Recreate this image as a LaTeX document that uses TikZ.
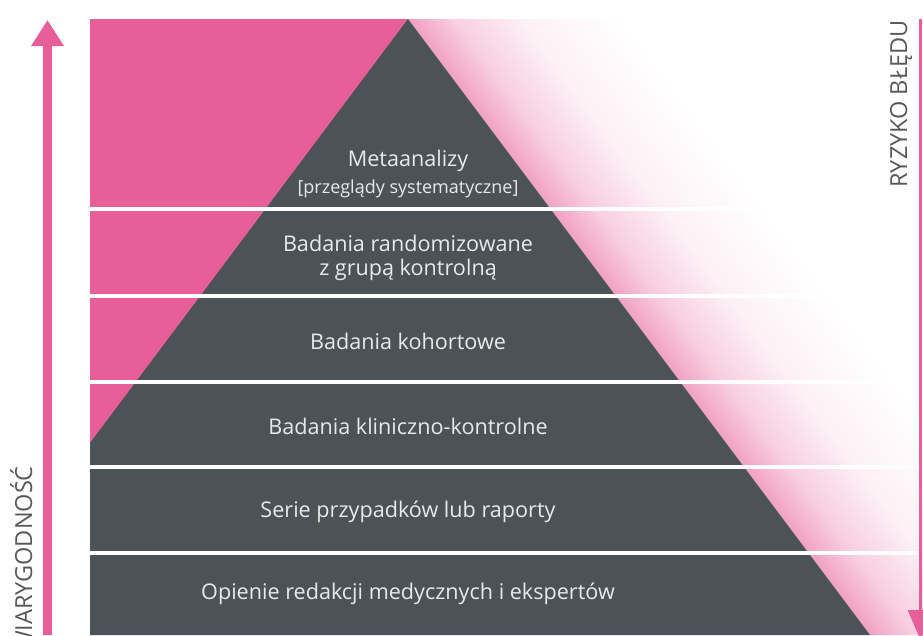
\documentclass[tikz,border=0pt]{standalone}
\usepackage{fontspec}
\setmainfont{Open Sans}
\usetikzlibrary{arrows.meta}
\definecolor{pk}{HTML}{E75E98}
\definecolor{dk}{HTML}{4C5357}
\definecolor{tx}{HTML}{E8E9E9}
\definecolor{sidegray}{HTML}{585858}
\colorlet{pkA}{pk!60}
\colorlet{pkB}{pk!30}
\colorlet{pkC}{pk!9}
\pgfdeclarehorizontalshading{pinkfade}{100bp}{color(0bp)=(pkA); color(25bp)=(pkA); color(36bp)=(pkB); color(52bp)=(pkC); color(75bp)=(white); color(100bp)=(white)}
\begin{document}
\begin{tikzpicture}[x=1pt,y=-1pt,
  level/.style={text=tx, font=\fontsize{21.6}{26}\selectfont, anchor=base, inner sep=0pt},
  sublevel/.style={level, font=\fontsize{18}{22}\selectfont},
  sidetext/.style={text=sidegray, font=\fontsize{23.5}{28}\selectfont, rotate=90, anchor=base east, inner sep=0pt},
  sepline/.style={draw=white, line width=3.2pt},
  leftarrow/.style={draw=pk, line width=9pt, -{Triangle[width=31pt,length=26pt]}},
  rightarrow/.style={draw=pk, line width=3pt, -{Triangle[width=25pt,length=30pt]}}]
\useasboundingbox (0,0) rectangle (923,635);
\fill[white] (0,0) rectangle (923,635);
% gradient right of the pyramid
\begin{scope}
\clip (408,19) -- (923,19) -- (923,635) -- (870,635) -- cycle;
\begin{scope}[transform canvas={shift={(408,19)}, rotate=36.87}]
\shade[shading=pinkfade] (-2,-10) rectangle (170,820);
\end{scope}
\end{scope}
% pink left area
\fill[pk] (90,19) rectangle (408,443);
% pyramid
\fill[dk] (408,19) -- (870,635) -- (90,635) -- (90,443) -- cycle;
% separators
\foreach \yy in {209,296,382,467,553} \draw[sepline] (90,\yy) -- (918,\yy);
% arrows
\coordinate (la1) at (47.5,635);
\coordinate (la2) at (47.5,20);
\draw[leftarrow] (la1) -- (la2);
\coordinate (ra1) at (920.5,19);
\coordinate (ra2) at (920.5,640);
\draw[rightarrow] (ra1) -- (ra2);
% texts
\node[level] (t1) at (408,166) {Metaanalizy};
\node[sublevel] (t1b) at (408,193) {[przeglądy systematyczne]};
\node[level] (t2) at (408,251) {Badania randomizowane};
\node[level] (t2b) at (408,275) {z grupą kontrolną};
\node[level] (t3) at (408,349) {Badania kohortowe};
\node[level] (t4) at (408,434) {Badania kliniczno-kontrolne};
\node[level] (t5) at (408,517) {Serie przypadków lub raporty};
\node[level] (t6) at (408,599) {Opienie redakcji medycznych i ekspertów};
\node[sidetext] (ls) at (32,466) {WIARYGODNOŚĆ};
\node[sidetext] (rs) at (907,20) {RYZYKO BŁĘDU};
\end{tikzpicture}
\end{document}
